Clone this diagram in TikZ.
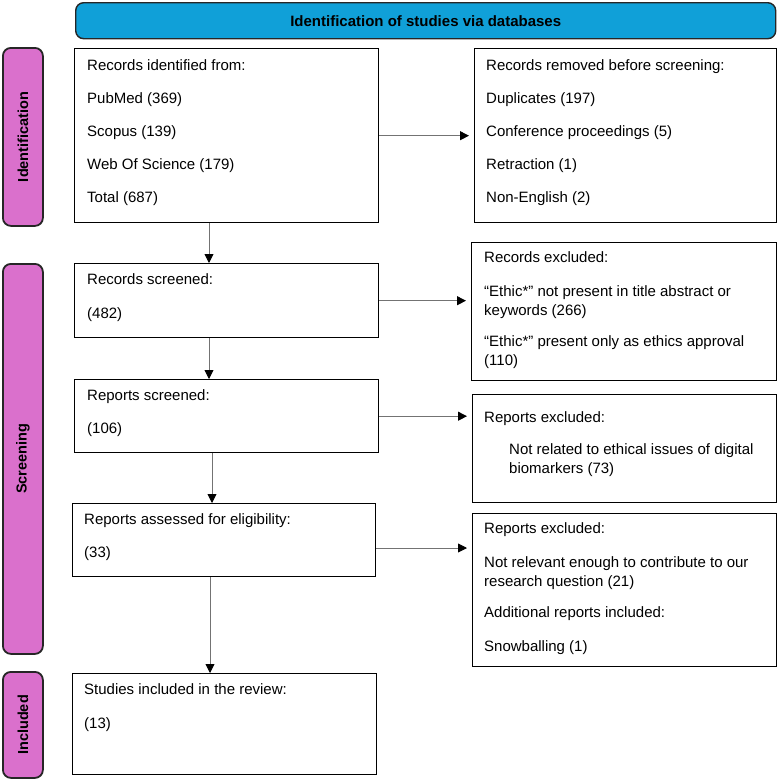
\documentclass[tikz,border=0pt]{standalone}
\usepackage{fontspec}
\setmainfont{Liberation Sans}
\usetikzlibrary{arrows.meta,calc}
\definecolor{hdrblue}{RGB}{16,160,216}
\definecolor{sidepink}{RGB}{218,112,204}
\definecolor{arrgray}{RGB}{115,115,115}
\begin{document}
\begin{tikzpicture}[x=1pt,y=-1pt,
  box/.style={draw=black, line width=1.4pt, anchor=north west, inner sep=0pt, fill=white},
  sidelab/.style={draw=black!85, line width=1.8pt, fill=sidepink, rounded corners=8pt, anchor=north west, inner sep=0pt},
  sidetxt/.style={rotate=90, font=\bfseries\fontsize{14.5}{17}\selectfont},
  txt/.style={anchor=north west, inner sep=0pt, align=left, font=\fontsize{15}{19}\selectfont},
  arr/.style={draw=arrgray, line width=0.9pt, -{Triangle[length=9pt,width=9pt,color=black]}},
  harr/.style={arr, shorten >=5pt}
]
\useasboundingbox (0,0) rectangle (778,779);

% header
\node[draw=black!85, line width=1.4pt, fill=hdrblue, rounded corners=8pt, anchor=north west,
  minimum width=700pt, minimum height=36pt, inner sep=0pt,
  font=\bfseries\fontsize{15}{18}\selectfont] (hdr) at (75,2) {Identification of studies via databases};

% side labels
\node[sidelab, minimum width=40pt, minimum height=178pt] (sid) at (2,47) {};
\node[sidetxt] (sidt) at (sid.center) {Identification};
\node[sidelab, minimum width=40pt, minimum height=390pt] (sscr) at (2,263) {};
\node[sidetxt] (sscrt) at (sscr.center) {Screening};
\node[sidelab, minimum width=40pt, minimum height=106pt] (sinc) at (2,671) {};
\node[sidetxt] (sinct) at (sinc.center) {Included};

% boxes
\node[box, minimum width=304pt, minimum height=174pt] (b1) at (74,48) {};
\node[box, minimum width=302pt, minimum height=174pt] (r1) at (474,48) {};
\node[box, minimum width=304pt, minimum height=74pt] (b2) at (74,263) {};
\node[box, minimum width=305pt, minimum height=138pt] (r2) at (471,242) {};
\node[box, minimum width=304pt, minimum height=73pt] (b3) at (74,379) {};
\node[box, minimum width=304pt, minimum height=108pt] (r3) at (472,394) {};
\node[box, minimum width=303pt, minimum height=73pt] (b4) at (72,503) {};
\node[box, minimum width=304pt, minimum height=153pt] (r4) at (472,513) {};
\node[box, minimum width=304pt, minimum height=101pt] (b5) at (72,673) {};

% texts
\node[txt] (t1) at (87,59.5) {Records identified from:\\[14pt]PubMed (369)\\[14pt]Scopus (139)\\[14pt]Web Of Science (179)\\[14pt]Total (687)};
\node[txt] (tr1) at (486,59.5) {Records removed before screening:\\[14pt]Duplicates (197)\\[14pt]Conference proceedings (5)\\[14pt]Retraction (1)\\[14pt]Non-English (2)};
\node[txt] (t2) at (87,273.5) {Records screened:\\[15pt](482)};
\node[txt] (tr2) at (484,251.5) {Records excluded:\\[15pt]“Ethic*” not present in title abstract or\\keywords (266)\\[12pt]“Ethic*” present only as ethics approval\\(110)};
\node[txt] (t3) at (87,389.5) {Reports screened:\\[14pt](106)};
\node[txt] (tr3) at (484,411.5) {Reports excluded:\\[13pt]\hspace*{25pt}Not related to ethical issues of digital\\\hspace*{25pt}biomarkers (73)};
\node[txt] (t4) at (84,513.5) {Reports assessed for eligibility:\\[14pt](33)};
\node[txt] (tr4) at (484,522.5) {Reports excluded:\\[15pt]Not relevant enough to contribute to our\\research question (21)\\[12pt]Additional reports included:\\[15pt]Snowballing (1)};
\node[txt] (t5) at (84,683.5) {Studies included in the review:\\[15pt](13)};

% connectors
\coordinate (v1) at (209,0);
\coordinate (v3) at (212,0);
\coordinate (v4) at (210,0);
\coordinate (a4) at (0,548);
\draw[harr] (b1.east) -- (r1.west |- b1.east);
\draw[harr] (b2.east) -- (r2.west |- b2.east);
\draw[harr] (b3.east) -- (r3.west |- b3.east);
\draw[harr] (b4.east |- a4) -- (r4.west |- a4);
\draw[arr] (b1.south -| v1) -- (b2.north -| v1);
\draw[arr] (b2.south -| v1) -- (b3.north -| v1);
\draw[arr] (b3.south -| v3) -- (b4.north -| v3);
\draw[arr] (b4.south -| v4) -- (b5.north -| v4);
\end{tikzpicture}
\end{document}
